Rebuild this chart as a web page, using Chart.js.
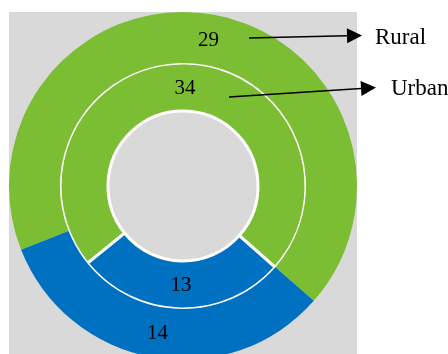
<!DOCTYPE html>
<html lang="en">
<head>
    <meta charset="UTF-8">
    <title>Rural / Urban</title>
    <style>
        html, body {
            margin: 0;
            padding: 0;
            background: #fff;
            overflow: hidden;
        }
        #wrap {
            position: relative;
            width: 448px;
            height: 362px;
        }
    </style>
</head>
<body>
    <div id="wrap">
        <canvas id="ringChart" width="448" height="362"></canvas>
    </div>

    <script src="https://cdn.jsdelivr.net/npm/chart.js"></script>
    <script>
        // data
        const categories = ['Part 1', 'Part 2'];
        const seriesNames = ['Rural', 'Urban'];   // outer ring, inner ring
        const ruralValues = [29, 14];
        const urbanValues = [34, 13];

        const green = '#7BBD33';
        const blue = '#0070C0';
        const grey = '#D9D9D9';

        // grey panel behind the rings
        const panel = {
            id: 'panel',
            beforeDraw(chart) {
                const c = chart.ctx;
                c.save();
                c.fillStyle = '#fff';
                c.fillRect(0, 0, chart.width, chart.height);
                c.fillStyle = grey;
                c.fillRect(9, 12, 348, 350);
                c.restore();
            }
        };

        // value labels in each slice, plus the arrows pointing to the ring names
        const arrows = [
            { from: [249, 38], to: [362, 35.5], text: seriesNames[0], tx: 375, ty: 38 },
            { from: [229, 97], to: [376, 87.5], text: seriesNames[1], tx: 391, ty: 89 }
        ];

        const annotate = {
            id: 'annotate',
            afterDraw(chart) {
                const c = chart.ctx;
                c.save();
                c.fillStyle = '#000';
                c.textAlign = 'center';
                c.textBaseline = 'middle';
                c.font = '21px "Liberation Serif", serif';
                chart.data.datasets.forEach((ds, i) => {
                    chart.getDatasetMeta(i).data.forEach((arc, j) => {
                        const p = arc.tooltipPosition();
                        c.fillText(String(ds.data[j]), p.x, p.y + 1);
                    });
                });

                c.strokeStyle = '#000';
                c.lineWidth = 1.5;
                arrows.forEach(a => {
                    const [x0, y0] = a.from;
                    const [x1, y1] = a.to;
                    const ang = Math.atan2(y1 - y0, x1 - x0);
                    const len = 15, half = 7.5;
                    const bx = x1 - len * Math.cos(ang);
                    const by = y1 - len * Math.sin(ang);
                    c.beginPath();
                    c.moveTo(x0, y0);
                    c.lineTo(bx, by);
                    c.stroke();
                    c.beginPath();
                    c.moveTo(x1, y1);
                    c.lineTo(bx - half * Math.sin(ang), by + half * Math.cos(ang));
                    c.lineTo(bx + half * Math.sin(ang), by - half * Math.cos(ang));
                    c.closePath();
                    c.fill();

                    c.textAlign = 'left';
                    c.font = '23px "Liberation Serif", serif';
                    c.fillText(a.text, a.tx, a.ty);
                });
                c.restore();
            }
        };

        const ctx = document.getElementById('ringChart').getContext('2d');
        new Chart(ctx, {
            type: 'doughnut',
            data: {
                labels: categories,
                datasets: [
                    {
                        label: seriesNames[0],
                        data: ruralValues,
                        backgroundColor: [green, blue],
                        borderWidth: 0,
                        rotation: -111.5,
                        weight: 51
                    },
                    {
                        label: seriesNames[1],
                        data: urbanValues,
                        backgroundColor: [green, blue],
                        borderColor: '#fff',
                        borderWidth: 3,
                        rotation: -129,
                        weight: 48
                    }
                ]
            },
            options: {
                responsive: false,
                animation: false,
                devicePixelRatio: 1,
                cutout: 75,
                layout: {
                    padding: { left: 9, top: 12, right: 91, bottom: 2 }
                },
                plugins: {
                    legend: { display: false },
                    tooltip: { enabled: false }
                }
            },
            plugins: [panel, annotate]
        });
    </script>
</body>
</html>
